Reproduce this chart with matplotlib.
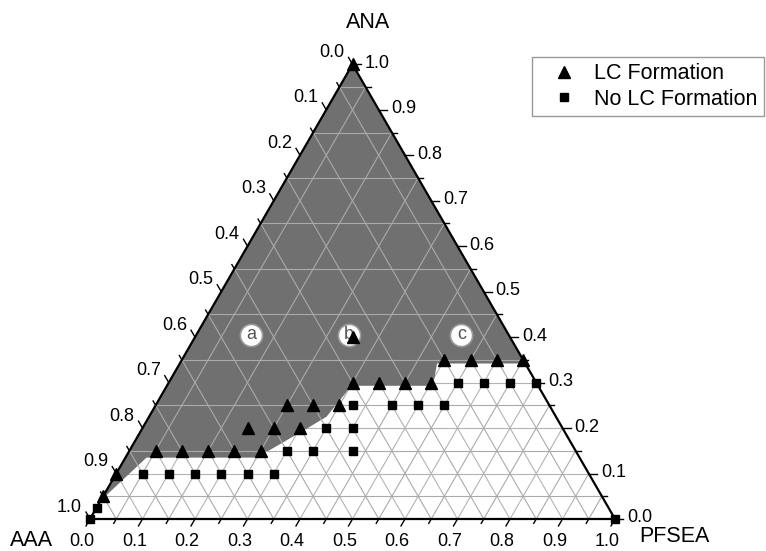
import numpy as np
import matplotlib.pyplot as plt

plt.rcParams['font.family'] = ['Liberation Sans', 'DejaVu Sans']

# compositions (fractions of ANA and PFSEA, AAA = rest)
lc_ana = [1.0, 0.05, 0.10,
          0.15, 0.15, 0.15, 0.15, 0.15,
          0.20, 0.20, 0.20,
          0.25, 0.25, 0.25,
          0.30, 0.30, 0.30, 0.30,
          0.35, 0.35, 0.35, 0.35,
          0.40]
lc_pfsea = [0.0, 0.0, 0.0,
            0.05, 0.10, 0.15, 0.20, 0.25,
            0.20, 0.25, 0.30,
            0.25, 0.30, 0.35,
            0.35, 0.40, 0.45, 0.50,
            0.50, 0.55, 0.60, 0.65,
            0.30]

nolc_ana = [0.0, 0.0, 0.025,
            0.10, 0.10, 0.10, 0.10, 0.10, 0.10,
            0.15, 0.15, 0.15,
            0.20, 0.20,
            0.25, 0.25, 0.25, 0.25,
            0.30, 0.30, 0.30, 0.30]
nolc_pfsea = [0.0, 1.0, 0.0,
              0.05, 0.10, 0.15, 0.20, 0.25, 0.30,
              0.30, 0.35, 0.425,
              0.35, 0.40,
              0.375, 0.45, 0.50, 0.55,
              0.55, 0.60, 0.65, 0.70]

# outline of the shaded LC region
region_ana = [1.0, 0.04, 0.135, 0.135, 0.195, 0.225, 0.28, 0.293, 0.293, 0.342, 0.342]
region_pfsea = [0.0, 0.0, 0.04, 0.25, 0.31, 0.338, 0.349, 0.345, 0.507, 0.49, 0.658]

# sample labels a, b, c
sample_names = ['a', 'b', 'c']
sample_ana = [0.405, 0.405, 0.405]
sample_pfsea = [0.105, 0.29, 0.505]

H = np.sqrt(3) / 2
px = 1 / 525.0


def tern(ana, pfsea):
    ana = np.asarray(ana, dtype=float)
    pfsea = np.asarray(pfsea, dtype=float)
    return pfsea + ana / 2, ana * H


fig = plt.figure(figsize=(7.66, 5.51), dpi=100)
ax = fig.add_axes([0, 0, 1, 1])
ax.set_xlim(-90 * px, 676 * px)
ax.set_ylim(-32 * px, 519 * px)
ax.axis('off')

# grid
major = np.round(np.arange(0.1, 0.91, 0.1), 2)
minor = np.round(np.arange(0.05, 0.96, 0.1), 2)


def grid(vals, color, z, lw):
    for v in vals:
        for a, b in [((v, 0), (v, 1 - v)),
                     ((0, v), (1 - v, v)),
                     ((0, 1 - v), (1 - v, 0))]:
            x, y = tern([a[0], b[0]], [a[1], b[1]])
            ax.plot(x, y, color=color, lw=lw, zorder=z)


grid(major, '#b4b4b4', 1, 0.8)

rx, ry = tern(region_ana, region_pfsea)
ax.fill(rx, ry, color='#707070', lw=0, zorder=2)

grid(minor, '#aaaaaa', 3, 0.8)

# triangle frame
fx, fy = tern([0, 0, 1, 0], [0, 1, 0, 0])
ax.plot(fx, fy, color='black', lw=1.6, zorder=4, solid_joinstyle='miter')

# ticks and labels
fs_tick = 13
for v in np.round(np.arange(0, 1.001, 0.05), 2):
    is_major = int(round(v * 20)) % 2 == 0
    L = (8 if is_major else 5) * px
    # bottom (PFSEA)
    x0, y0 = tern(0, v)
    ax.plot([x0, x0 - 0.5 * L], [y0, y0 - H * L], color='black', lw=1, zorder=4)
    # right (ANA)
    x1, y1 = tern(v, 1 - v)
    ax.plot([x1, x1 + L], [y1, y1], color='black', lw=1, zorder=4)
    # left (AAA)
    x2, y2 = tern(1 - v, 0)
    ax.plot([x2, x2 - 0.5 * L], [y2, y2 + H * L], color='black', lw=1, zorder=4)
    if is_major:
        s = '%.1f' % v
        ax.text(x0 - 8 * px, y0 - 23 * px, s, ha='center', va='center', fontsize=fs_tick)
        ax.text(x1 + 12 * px, y1 + 1 * px, s, ha='left', va='center', fontsize=fs_tick)
        ax.text(x2 - 8 * px, y2 + 12 * px, s, ha='right', va='center', fontsize=fs_tick)

ax.text(278 * px, 497 * px, 'ANA', ha='center', va='center', fontsize=15.5)
ax.text(-58.5 * px, -22 * px, 'AAA', ha='center', va='center', fontsize=15.5)
ax.text(584 * px, -17 * px, 'PFSEA', ha='center', va='center', fontsize=15.5)

# sample labels
sx, sy = tern(sample_ana, sample_pfsea)
ax.plot(sx, sy, 'o', ms=16, mfc='white', mec='#9a9a9a', mew=1.2, ls='none', zorder=5)
for name, x, y in zip(sample_names, sx, sy):
    ax.text(x, y, name, ha='center', va='center', fontsize=13, color='#555555', zorder=6)

# data points
lx, ly = tern(lc_ana, lc_pfsea)
nx, ny = tern(nolc_ana, nolc_pfsea)
ax.plot(lx, ly, '^', color='black', ms=8, ls='none', zorder=7, clip_on=False, label='LC Formation')
ax.plot(nx, ny, 's', color='black', ms=6, ls='none', zorder=7, clip_on=False, label='No LC Formation')

leg = ax.legend(loc='upper left', bbox_to_anchor=(532 / 766, 1 - 57 / 551),
                bbox_transform=fig.transFigure, borderaxespad=0, fancybox=False,
                edgecolor='#808080', fontsize=15.5, numpoints=1, handlelength=2.4,
                handletextpad=0.2, borderpad=0.3, labelspacing=0.2)
leg.get_frame().set_linewidth(1.0)

fig.savefig('out.png', dpi=100)
